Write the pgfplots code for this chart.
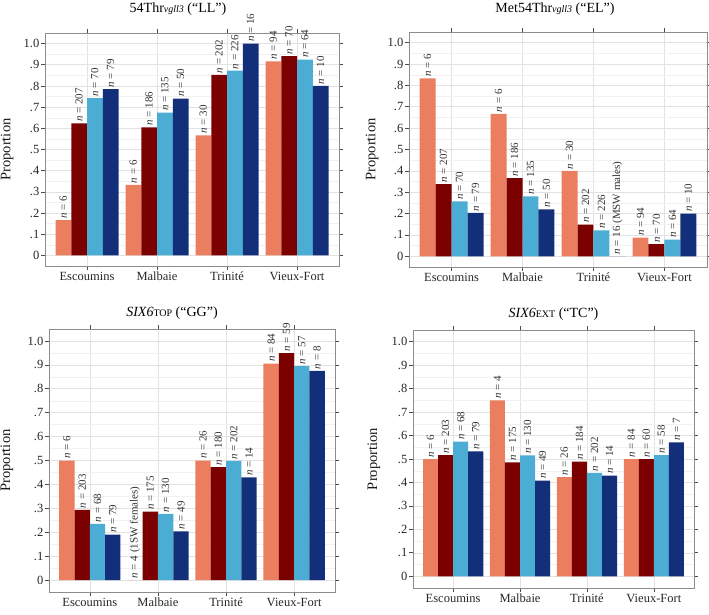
\documentclass[border=0pt]{standalone}
\usepackage{pgfplots}
\pgfplotsset{compat=1.18}
\usepackage{fontspec}
\setmainfont{Liberation Serif}
\definecolor{cA}{HTML}{EC7E60}
\definecolor{cB}{HTML}{7B0000}
\definecolor{cC}{HTML}{4CADD4}
\definecolor{cD}{HTML}{142F7A}
\definecolor{bordc}{HTML}{8C8C8C}
\definecolor{gmaj}{HTML}{E2E2E2}
\definecolor{gmin}{HTML}{F1F1F1}
\pgfplotsset{
  panel/.style={
    scale only axis,
    anchor=north west,
    ybar=0pt, bar width=0.225,
    xmin=0.4, xmax=4.6, ymin=-0.05, ymax=1.05,
    xtick={1,2,3,4},
    xticklabels={Escoumins,Malbaie,Trinité,Vieux-Fort},
    ytick={0,0.1,0.2,0.3,0.4,0.5,0.6,0.7,0.8,0.9,1.0},
    yticklabels={0,.1,.2,.3,.4,.5,.6,.7,.8,.9,1.0},
    minor ytick={0.05,0.15,0.25,0.35,0.45,0.55,0.65,0.75,0.85,0.95},
    ymajorgrids, xmajorgrids, yminorgrids,
    major grid style={color=gmaj, line width=0.6pt},
    minor grid style={color=gmin, line width=0.4pt},
    axis line style={color=bordc, line width=0.9pt},
    tick style={color=black!70, line width=0.7pt},
    tick align=outside, major tick length=4pt, minor tick length=0pt,
    tick label style={font=\fontsize{12.5}{14}\selectfont, color=black!85},
    yticklabel style={inner sep=1.5pt},
    xticklabel style={inner sep=2pt},
    ylabel={Proportion},
    every axis title shift=0pt,
    point meta=explicit symbolic,
    nodes near coords={\textit{n} = \pgfplotspointmeta},
    every node near coord/.append style={rotate=90, anchor=west,
      font=\fontsize{11}{12}\selectfont, color=black!80, inner sep=1.5pt},
  },
  ylab/.style={ylabel style={at={(axis description cs:#1,0.5)}, anchor=center,
      font=\fontsize{14.5}{16}\selectfont, color=black!90}},
  tpos/.style 2 args={title style={at={(rel axis cs:0.5,1)}, anchor=center,
      xshift=#1, yshift=#2, font=\fontsize{14}{16}\selectfont}},
}
\begin{document}
\begin{tikzpicture}
\useasboundingbox (0,0) rectangle (709pt,614pt);

% Panel 1: 54Thr vgll3 ("LL")
\begin{axis}[panel, at={(45pt,581pt)}, width=294pt, height=233pt,
  ylab=-0.129, tpos={-14pt}{24pt},
  title={54Thr{\itshape\fontsize{10}{12}\selectfont vgll3} (“LL”)}]
\addplot[fill=cA, draw=none] coordinates {(1,0.167) [6] (2,0.333) [6] (3,0.567) [30] (4,0.916) [94]};
\addplot[fill=cB, draw=none] coordinates {(1,0.623) [207] (2,0.605) [186] (3,0.852) [202] (4,0.941) [70]};
\addplot[fill=cC, draw=none] coordinates {(1,0.743) [70] (2,0.674) [135] (3,0.872) [226] (4,0.924) [64]};
\addplot[fill=cD, draw=none] coordinates {(1,0.785) [79] (2,0.740) [50] (3,1.000) [16] (4,0.800) [10]};
\end{axis}

% Panel 2: Met54Thr vgll3 ("EL")
\begin{axis}[panel, at={(409pt,582pt)}, width=298pt, height=235pt,
  ylab=-0.124, tpos={-3pt}{23pt},
  title={Met54Thr{\itshape\fontsize{10}{12}\selectfont vgll3} (“EL”)}]
\addplot[fill=cA, draw=none] coordinates {(1,0.833) [6] (2,0.667) [6] (3,0.400) [30] (4,0.088) [94]};
\addplot[fill=cB, draw=none] coordinates {(1,0.338) [207] (2,0.366) [186] (3,0.148) [202] (4,0.057) [70]};
\addplot[fill=cC, draw=none] coordinates {(1,0.257) [70] (2,0.281) [135] (3,0.122) [226] (4,0.078) [64]};
\addplot[fill=cD, draw=none] coordinates {(1,0.203) [79] (2,0.220) [50] (3,0.000) [16 (MSW males)] (4,0.200) [10]};
\end{axis}

% Panel 3: SIX6 TOP ("GG")
\begin{axis}[panel, at={(49pt,285pt)}, width=286pt, height=263pt,
  ylab=-0.147, tpos={-20pt}{16pt},
  title={\textit{SIX6}{\fontsize{10}{12}\selectfont TOP} (“GG”)}]
\addplot[fill=cA, draw=none] coordinates {(1,0.500) [6] (2,0.000) [4 (1SW females)] (3,0.500) [26] (4,0.905) [84]};
\addplot[fill=cB, draw=none] coordinates {(1,0.294) [203] (2,0.286) [175] (3,0.472) [180] (4,0.949) [59]};
\addplot[fill=cC, draw=none] coordinates {(1,0.235) [68] (2,0.277) [130] (3,0.498) [202] (4,0.895) [57]};
\addplot[fill=cD, draw=none] coordinates {(1,0.190) [79] (2,0.204) [49] (3,0.429) [14] (4,0.875) [8]};
\end{axis}

% Panel 4: SIX6 EXT ("TC")
\begin{axis}[panel, at={(413pt,284pt)}, width=281pt, height=258pt,
  ylab=-0.139, tpos={0pt}{16pt},
  title={\textit{SIX6}{\fontsize{10}{12}\selectfont EXT} (“TC”)}]
\addplot[fill=cA, draw=none] coordinates {(1,0.500) [6] (2,0.750) [4] (3,0.423) [26] (4,0.500) [84]};
\addplot[fill=cB, draw=none] coordinates {(1,0.517) [203] (2,0.486) [175] (3,0.489) [184] (4,0.500) [60]};
\addplot[fill=cC, draw=none] coordinates {(1,0.574) [68] (2,0.515) [130] (3,0.441) [202] (4,0.517) [58]};
\addplot[fill=cD, draw=none] coordinates {(1,0.532) [79] (2,0.408) [49] (3,0.429) [14] (4,0.571) [7]};
\end{axis}
\end{tikzpicture}
\end{document}
